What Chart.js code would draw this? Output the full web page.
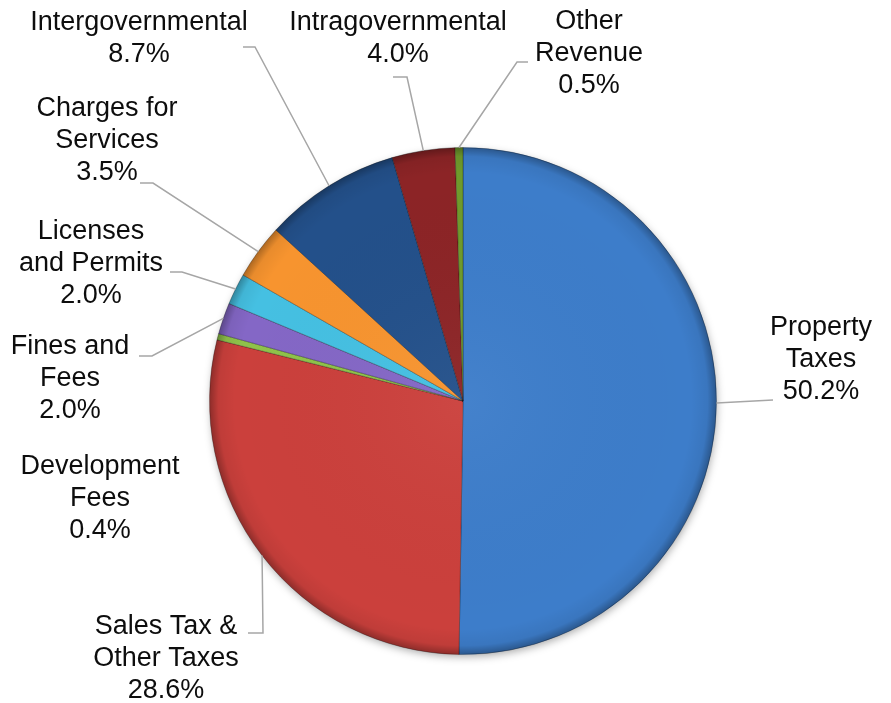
<!DOCTYPE html>
<html>
<head>
<meta charset="utf-8">
<script src="https://cdn.jsdelivr.net/npm/chart.js@4.4.0/dist/chart.umd.min.js"></script>
<style>
  body { margin: 0; background: #fff; }
  #wrap { position: relative; width: 891px; height: 703px; }
</style>
</head>
<body>
<div id="wrap"><canvas id="pie"></canvas></div>
<script>
const categories = [
  'Property\nTaxes',
  'Sales Tax &\nOther Taxes',
  'Development\nFees',
  'Fines and\nFees',
  'Licenses\nand Permits',
  'Charges for\nServices',
  'Intergovernmental',
  'Intragovernmental',
  'Other\nRevenue'
];
const shares = [50.2, 28.6, 0.4, 2.0, 2.0, 3.5, 8.7, 4.0, 0.5];
const sliceColors = ['#3d7dca', '#cb403c', '#8fc24a', '#8467c6', '#45c0e2', '#f7942f', '#23508a', '#8c2426', '#6f9a2c'];

// where each label sits (centre x, first line y) and the bends of its leader line
const labelLayout = [
  { x: 821, y: 328, path: [[773, 400]] },
  { x: 166, y: 627, path: [[263, 633], [248, 633]] },
  { x: 100, y: 467, path: null },
  { x: 70, y: 347, path: [[152, 356], [139, 356]] },
  { x: 91, y: 232, path: [[182, 272], [170, 272]] },
  { x: 107, y: 109, path: [[153, 183], [140, 183]] },
  { x: 139, y: 23, path: [[255, 47], [243, 47]] },
  { x: 398, y: 23, path: [[407, 77], [393, 77]] },
  { x: 589, y: 22, path: [[517, 62], [528, 62]] }
];
const lineGap = 32;

const pieShade = {
  id: 'pieShade',
  beforeDatasetsDraw(chart) {
    const arc = chart.getDatasetMeta(0).data[0];
    const ctx = chart.ctx;
    ctx.save();
    ctx.shadowColor = 'rgba(0,0,0,0.35)';
    ctx.shadowBlur = 8;
    ctx.shadowOffsetY = 3;
    ctx.shadowOffsetX = 1;
    ctx.fillStyle = '#fff';
    ctx.beginPath();
    ctx.arc(arc.x, arc.y, arc.outerRadius - 1, 0, Math.PI * 2);
    ctx.fill();
    ctx.restore();
  },
  afterDatasetsDraw(chart) {
    const arc = chart.getDatasetMeta(0).data[0];
    const ctx = chart.ctx;
    const r = arc.outerRadius;
    ctx.save();
    ctx.beginPath();
    ctx.arc(arc.x, arc.y, r, 0, Math.PI * 2);
    ctx.clip();
    const g = ctx.createRadialGradient(arc.x, arc.y, 0, arc.x, arc.y, r);
    g.addColorStop(0, 'rgba(255,255,255,0.04)');
    g.addColorStop(0.9, 'rgba(0,0,0,0)');
    g.addColorStop(0.965, 'rgba(0,0,0,0.06)');
    g.addColorStop(1, 'rgba(0,0,0,0.3)');
    ctx.fillStyle = g;
    ctx.fillRect(arc.x - r, arc.y - r, r * 2, r * 2);
    ctx.restore();
  }
};

const calloutLabels = {
  id: 'calloutLabels',
  afterDraw(chart) {
    const ctx = chart.ctx;
    const arcs = chart.getDatasetMeta(0).data;
    ctx.save();
    ctx.strokeStyle = '#a6a6a6';
    ctx.lineWidth = 1.5;
    arcs.forEach((a, i) => {
      const lay = labelLayout[i];
      if (lay.path) {
        const mid = (a.startAngle + a.endAngle) / 2;
        ctx.beginPath();
        ctx.moveTo(a.x + Math.cos(mid) * a.outerRadius, a.y + Math.sin(mid) * a.outerRadius);
        lay.path.forEach(p => ctx.lineTo(p[0], p[1]));
        ctx.stroke();
      }
    });
    ctx.fillStyle = '#0d0d0d';
    ctx.font = '27px "Liberation Sans", Arial, sans-serif';
    ctx.textAlign = 'center';
    ctx.textBaseline = 'middle';
    categories.forEach((name, i) => {
      const lines = name.split('\n').concat(shares[i].toFixed(1) + '%');
      lines.forEach((t, k) => ctx.fillText(t, labelLayout[i].x, labelLayout[i].y + k * lineGap));
    });
    ctx.restore();
  }
};

new Chart(document.getElementById('pie'), {
  type: 'pie',
  data: {
    labels: categories,
    datasets: [{
      data: shares,
      backgroundColor: sliceColors,
      borderColor: 'rgba(0,0,0,0.28)',
      borderWidth: 1
    }]
  },
  options: {
    responsive: true,
    maintainAspectRatio: false,
    animation: false,
    layout: { padding: { left: 209, right: 174, top: 147, bottom: 48 } },
    plugins: {
      legend: { display: false },
      tooltip: { enabled: false }
    }
  },
  plugins: [pieShade, calloutLabels]
});
</script>
</body>
</html>
